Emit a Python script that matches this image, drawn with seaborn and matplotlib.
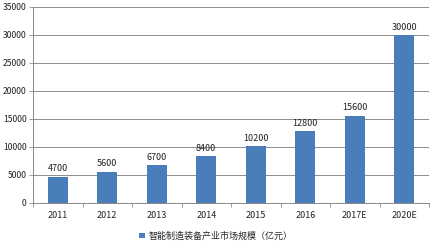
import matplotlib
matplotlib.use("Agg")
import matplotlib.pyplot as plt
import seaborn as sns
import pandas as pd
from matplotlib.patches import Patch

categories = ["2011", "2012", "2013", "2014", "2015", "2016", "2017E", "2020E"]
values = [4700, 5600, 6700, 8400, 10200, 12800, 15600, 30000]
series_name = "智能制造装备产业市场规模（亿元）"
yticks = [0, 5000, 10000, 15000, 20000, 25000, 30000, 35000]

sns.set_theme(style="white")
plt.rcParams['font.family'] = ['Noto Sans CJK SC', 'DejaVu Sans']

df = pd.DataFrame({"year": categories, "value": values})

fig = plt.figure(figsize=(4.32, 2.42), dpi=100)
ax = fig.add_axes([33/432, 1 - 203/242, (429-33)/432, (203-7)/242])

color = "#4a7ebb"
sns.barplot(data=df, x="year", y="value", color=color, width=0.4, ax=ax,
            saturation=1, edgecolor="none")

for i, v in enumerate(values):
    ax.text(i, v + 600, f"{v}", ha="center", va="bottom", fontsize=6.5, color="#222222")

ax.set_ylim(0, 35000)
ax.set_yticks(yticks)
ax.set_yticklabels([str(t) for t in yticks], fontsize=6.2, color="#222222")
ax.set_xlim(-0.5, len(categories) - 0.5)
ax.tick_params(axis="x", labelsize=6.5, colors="#222222", length=0, pad=6)
ax.tick_params(axis="y", length=3, width=0.6, color="#888888", pad=1.5, left=True)
ax.set_xlabel("")
ax.set_ylabel("")

ax.yaxis.grid(True, color="#8c8c8c", linewidth=0.7)
ax.set_axisbelow(True)
for s in ["top", "right"]:
    ax.spines[s].set_visible(False)
ax.spines["left"].set_color("#888888")
ax.spines["left"].set_linewidth(0.7)
ax.spines["bottom"].set_color("#888888")
ax.spines["bottom"].set_linewidth(0.7)

# minor ticks between categories on x axis
ax.set_xticks([i + 0.5 for i in range(-1, len(categories))], minor=True)
ax.tick_params(axis="x", which="minor", length=3, width=0.6, color="#888888", bottom=True)

handle = Patch(facecolor=color, edgecolor="none", label=series_name)
fig.legend(handles=[handle], loc="center", bbox_to_anchor=(0.5, 1 - 236/242),
           frameon=False, fontsize=6.5, handlelength=0.6, handleheight=0.6,
           handletextpad=0.4)

fig.savefig("out.png", dpi=100, facecolor="white")
